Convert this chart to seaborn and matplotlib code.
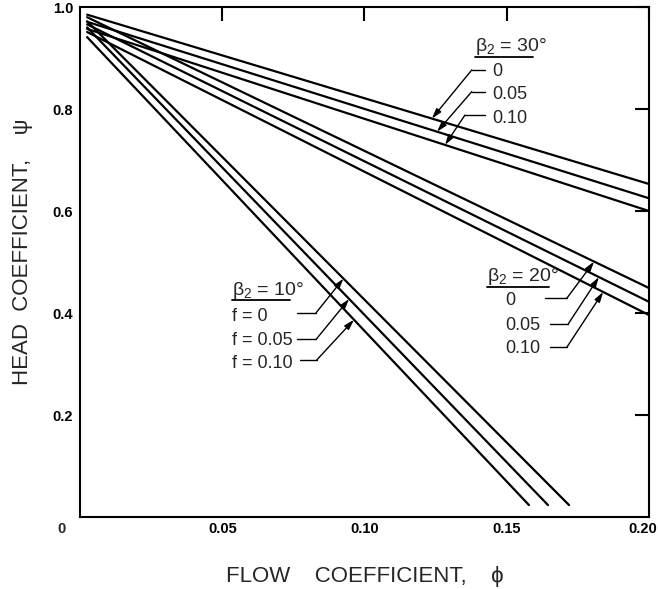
import numpy as np
import pandas as pd
import matplotlib
matplotlib.use('Agg')
import matplotlib.pyplot as plt
import matplotlib.transforms as mtrans
import seaborn as sns

sns.set_theme(style='white')
plt.rcParams['font.family'] = ['Liberation Sans', 'DejaVu Sans']
plt.rcParams['mathtext.fontset'] = 'custom'
plt.rcParams['mathtext.rm'] = 'Liberation Sans'
plt.rcParams['mathtext.it'] = 'Liberation Sans:italic'

# straight lines: start and end point of each one
beta2 = [30, 30, 30, 20, 20, 20, 10, 10, 10]
f_val = [0, 0.05, 0.10, 0, 0.05, 0.10, 0, 0.05, 0.10]
phi_start = [0.0025, 0.0025, 0.0025, 0.0025, 0.0025, 0.0025, 0.0025, 0.0025, 0.0025]
psi_start = [0.985, 0.971, 0.957, 0.980, 0.966, 0.951, 0.972, 0.960, 0.941]
phi_end = [0.20, 0.20, 0.20, 0.20, 0.20, 0.20, 0.1719, 0.1645, 0.1578]
psi_end = [0.653, 0.625, 0.600, 0.449, 0.422, 0.396, 0.0235, 0.0235, 0.0235]

x_ticks = [0.05, 0.10, 0.15, 0.20]
x_ticklabels = ['0.05', '0.10', '0.15', '0.20']
y_ticks = [0.2, 0.4, 0.6, 0.8, 1.0]
y_ticklabels = ['0.2', '0.4', '0.6', '0.8', '1.0']

rows = []
for i in range(len(beta2)):
    rows.append({'line': i, 'beta2': beta2[i], 'f': f_val[i], 'phi': phi_start[i], 'psi': psi_start[i]})
    rows.append({'line': i, 'beta2': beta2[i], 'f': f_val[i], 'phi': phi_end[i], 'psi': psi_end[i]})
df = pd.DataFrame(rows)

fig, ax = plt.subplots(figsize=(6.58, 5.89), dpi=100)
fig.subplots_adjust(left=0.1216, right=0.9863, top=0.9881, bottom=0.1222)

sns.lineplot(data=df, x='phi', y='psi', units='line', estimator=None,
             color='black', linewidth=1.6, ax=ax, legend=False)

ax.set_xlim(0, 0.20)
ax.set_ylim(0, 1.0)
ax.set_xticks(x_ticks)
ax.set_xticklabels(x_ticklabels, fontsize=10.5, fontweight='bold')
ax.set_yticks(y_ticks)
ax.set_yticklabels(y_ticklabels, fontsize=10.5, fontweight='bold')
ax.tick_params(direction='in', length=10, width=1.5, top=True, right=True,
               colors='black')
ax.tick_params(axis='x', pad=3.5)
ax.tick_params(axis='y', pad=5)
for sp in ax.spines.values():
    sp.set_linewidth(1.5)
    sp.set_color('black')

# last x label sits partly past the frame edge, nudge it in a little
last = ax.get_xticklabels()[-1]
last.set_transform(last.get_transform() +
                   mtrans.ScaledTranslation(-0.065, 0, fig.dpi_scale_trans))

ax.annotate('0', xy=(0, 0), xytext=(-13, -3.5), textcoords='offset points',
            ha='center', va='top', fontsize=10.5, fontweight='bold')

ax.set_xlabel('FLOW    COEFFICIENT,    ϕ', fontsize=16, labelpad=22)
ax.set_ylabel('HEAD  COEFFICIENT,    ψ', fontsize=16)
ax.yaxis.set_label_coords(-0.082, 0.52)


def psi_at(i, x):
    return np.interp(x, [phi_start[i], phi_end[i]], [psi_start[i], psi_end[i]])


def group_title(text, x, y, ux0, ux1, uy):
    ax.text(x, y, text, ha='left', va='center', fontsize=14)
    ax.plot([ux0, ux1], [uy, uy], color='black', lw=1.3)


def leader(i, tip_x, bend, h_end, text, tx, ty):
    ax.plot([bend[0], h_end], [bend[1], bend[1]], color='black', lw=1)
    ax.annotate('', xy=(tip_x, psi_at(i, tip_x)), xytext=bend,
                arrowprops=dict(arrowstyle='-|>,head_length=0.5,head_width=0.15',
                                color='black', lw=1, shrinkA=0, shrinkB=0))
    ax.text(tx, ty, text, ha='left', va='center', fontsize=13)


# beta2 = 30 deg
group_title(r'β$_2$ = 30°', 0.1388, 0.922, 0.1388, 0.1592, 0.902)
leader(0, 0.1237, (0.1377, 0.8765), 0.1424, '0', 0.1448, 0.873)
leader(1, 0.1255, (0.1377, 0.834), 0.1424, '0.05', 0.1448, 0.8275)
leader(2, 0.1283, (0.1353, 0.788), 0.1424, '0.10', 0.1448, 0.7817)

# beta2 = 20 deg
group_title(r'β$_2$ = 20°', 0.1430, 0.471, 0.1430, 0.1650, 0.4503)
leader(3, 0.1807, (0.1711, 0.4288), 0.1634, '0', 0.1494, 0.4255)
leader(4, 0.1824, (0.1716, 0.3784), 0.1652, '0.05', 0.1494, 0.3765)
leader(5, 0.1839, (0.1711, 0.3327), 0.1652, '0.10', 0.1494, 0.3307)

# beta2 = 10 deg
group_title(r'β$_2$ = 10°', 0.0533, 0.445, 0.0533, 0.0738, 0.4255)
leader(6, 0.0926, (0.0830, 0.4006), 0.0762, 'f = 0', 0.0533, 0.3928)
leader(7, 0.0946, (0.0830, 0.3484), 0.0762, 'f = 0.05', 0.0533, 0.347)
leader(8, 0.0963, (0.0832, 0.3078), 0.0773, 'f = 0.10', 0.0533, 0.3013)

fig.savefig('out.png', dpi=100)
